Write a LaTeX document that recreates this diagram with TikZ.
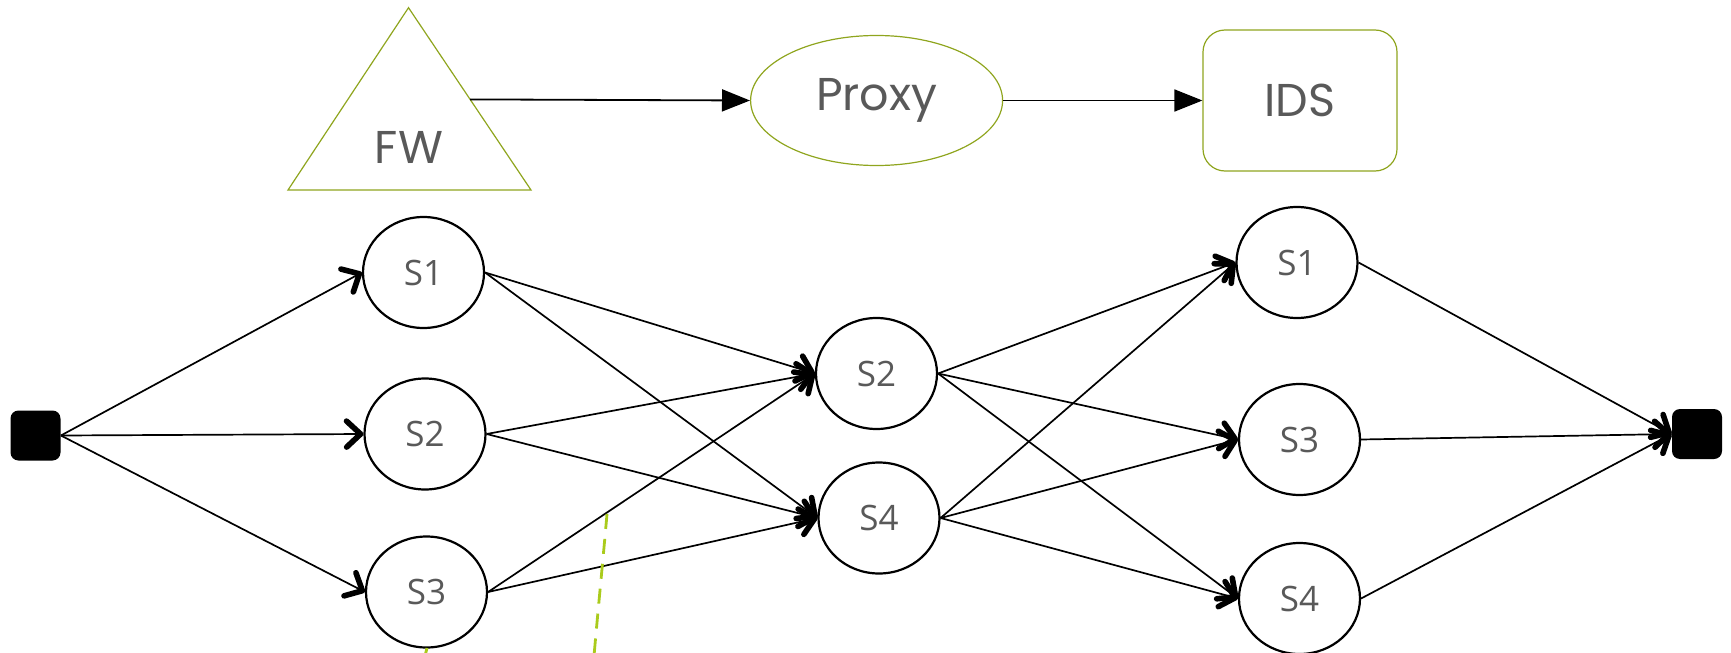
\documentclass[tikz,border=0pt]{standalone}
\usepackage{fontspec}
\newfontfamily\gothic{Poppins}
\newfontfamily\sfont{Open Sans}
\usetikzlibrary{arrows.meta,shapes.geometric}
\definecolor{olivegreen}{HTML}{8FA51E}
\definecolor{limedash}{HTML}{AACB1C}
\definecolor{txtgray}{HTML}{595959}
\begin{document}
\begin{tikzpicture}[x=0.5pt,y=-0.5pt,
  state/.style={ellipse, draw=black, line width=1.1pt, minimum width=60.5pt, minimum height=55.5pt, inner sep=0pt, font=\sfont\fontsize{17.5}{20}\selectfont, text=txtgray},
  term/.style={fill=black, rounded corners=4pt, minimum size=25pt, inner sep=0pt},
  edge/.style={line width=0.85pt, -{Straight Barb[length=7pt,width=13pt,line width=2.8pt,round]}},
  topshape/.style={draw=olivegreen, line width=0.6pt, font=\gothic\fontsize{23}{26}\selectfont, text=txtgray},
  toplabel/.style={font=\gothic\fontsize{23}{26}\selectfont, text=txtgray, inner sep=0pt},
  toparrow/.style={line width=0.9pt, -{Triangle[length=14pt,width=11pt]}},
  guide/.style={draw=limedash, line width=1.4pt, dash pattern=on 7.5pt off 5pt}]
\useasboundingbox (0,0) rectangle (1731,653);

% top row
\draw[draw=olivegreen, line width=0.6pt] (408.5,7.7) -- (531,190) -- (288,190) -- cycle;
\node[toplabel] (fw) at (409,147) {FW};
\coordinate (fwout) at (470,99.4);
\node[topshape, ellipse, minimum width=126pt, minimum height=65pt, inner sep=0pt] (proxy) at (876.6,100.5) {Proxy};
\node[topshape, rectangle, rounded corners=11pt, minimum width=97pt, minimum height=70.5pt, inner sep=0pt] (ids) at (1300,100.5) {IDS};
\draw[toparrow] (fwout) -- (proxy.west);
\draw[toparrow] (proxy.east) -- (ids.west);

% terminals
\node[term] (src) at (35.5,435.5) {};
\node[term] (dst) at (1697,434) {};

% states
\node[state] (a1) at (423.5,272.5) {S1};
\node[state] (a2) at (425,434) {S2};
\node[state] (a3) at (426.5,592) {S3};
\node[state] (b2) at (876.5,373.5) {S2};
\node[state] (b4) at (879,518) {S4};
\node[state] (c1) at (1297,262.5) {S1};
\node[state] (c3) at (1299.5,439.5) {S3};
\node[state] (c4) at (1299.5,598.5) {S4};

% connectors
\foreach \t in {a1,a2,a3} \draw[edge] (src.east) -- (\t.west);
\foreach \s in {a1,a2,a3} {
  \draw[edge] (\s.east) -- (b2.west);
  \draw[edge] (\s.east) -- (b4.west);
}
\foreach \s in {b2,b4} {
  \draw[edge] (\s.east) -- (c1.west);
  \draw[edge] (\s.east) -- (c3.west);
  \draw[edge] (\s.east) -- (c4.west);
}
\foreach \s in {c1,c3,c4} \draw[edge] (\s.east) -- (dst.west);

% dashed guides
\draw[guide] (607,514) .. controls (603,560) and (598,610) .. (594,656);
\draw[guide] (427,648) -- (425,656);
\end{tikzpicture}
\end{document}
